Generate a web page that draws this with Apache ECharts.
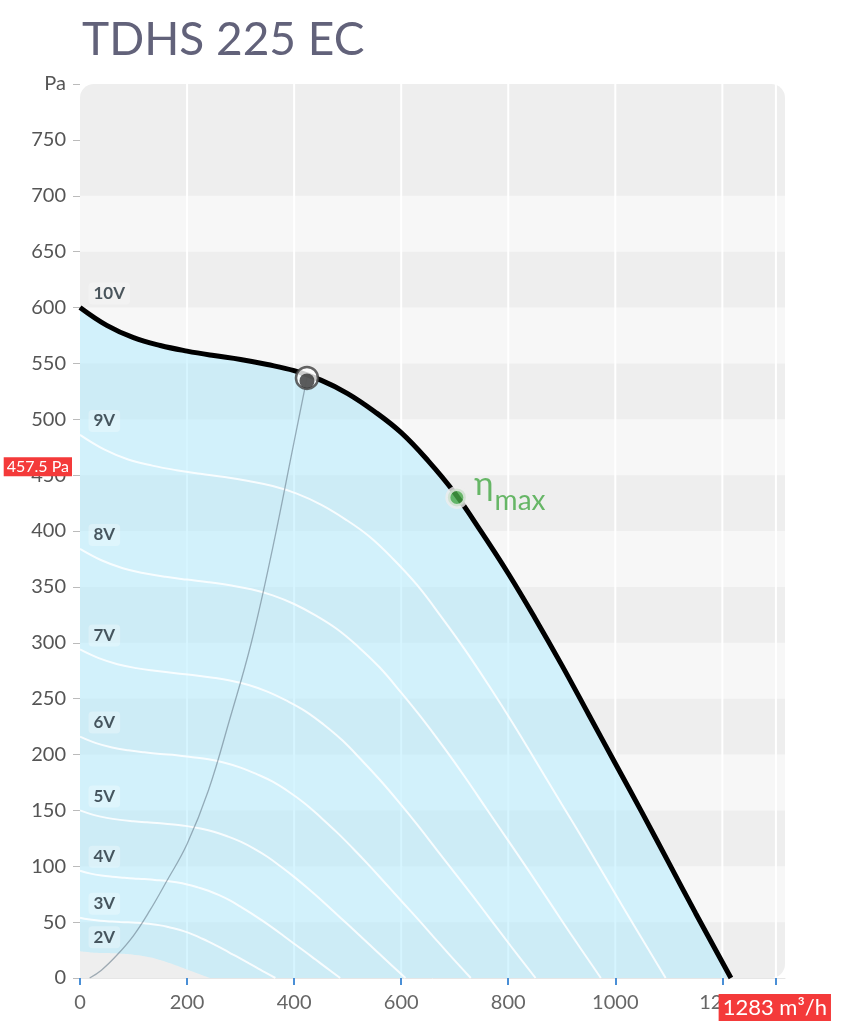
<!DOCTYPE html>
<html><head><meta charset="utf-8">
<script src="https://cdn.jsdelivr.net/npm/echarts@6/dist/echarts.min.js"></script>
<style>html,body{margin:0;padding:0;background:#fff}#c{width:848px;height:1024px}</style>
</head><body><div id="c"></div>
<script>
// ---------- data ----------
const chartTitle = 'TDHS 225 EC';
const xLabelValues = [0, 200, 400, 600, 800, 1000, 1200];
const xTickValues = [0, 200, 400, 600, 800, 1000, 1200, 1300];
const gridLineValues = [200, 400, 600, 800, 1000, 1200, 1300];
const lightBands = [[50,100],[150,200],[250,300],[350,400],[450,500],[550,600],[650,700]];
const xMax = 1317;
const yMax = 800;

const curve10V = [[0,600],[50,584],[100,573],[150,566],[200,561],[250,557],[300,553.5],[350,549],[400,543.5],[450,535],[500,523],[550,507],[600,488],[650,463],[700,434],[750,399],[800,362],[850,322],[900,280],[950,236],[1000,192],[1050,148],[1100,103],[1150,58],[1216,0]];
const curve9V = [[0,486],[45,473],[90,464],[135,458.5],[180,454.4],[225,451.2],[270,448.3],[315,444.7],[360,440.2],[405,433.4],[450,423.6],[495,410.7],[540,395.3],[585,375],[630,351.5],[675,323.2],[720,293.2],[765,260.8],[810,226.8],[855,191.2],[900,155.5],[945,119.9],[990,83.4],[1035,47],[1094,0]];
const curve8V = [[0,384],[40,373.8],[80,366.7],[120,362.2],[160,359],[200,356.5],[240,354.2],[280,351.4],[320,347.8],[360,342.4],[400,334.7],[440,324.5],[480,312.3],[520,296.3],[560,277.8],[600,255.4],[640,231.7],[680,206.1],[720,179.2],[760,151],[800,122.9],[840,94.7],[880,65.9],[920,37.1],[973,0]];
const curve7V = [[0,294],[35,286.2],[70,280.8],[105,277.3],[140,274.9],[175,272.9],[210,271.2],[245,269],[280,266.3],[315,262.2],[350,256.3],[385,248.4],[420,239.1],[455,226.9],[490,212.7],[525,195.5],[560,177.4],[595,157.8],[630,137.2],[665,115.6],[700,94.1],[735,72.5],[770,50.5],[805,28.4],[851,0]];
const curve6V = [[0,216],[30,210.2],[60,206.3],[90,203.8],[120,202],[150,200.5],[180,199.3],[210,197.6],[240,195.7],[270,192.6],[300,188.3],[330,182.5],[360,175.7],[390,166.7],[420,156.2],[450,143.6],[480,130.3],[510,115.9],[540,100.8],[570,85],[600,69.1],[630,53.3],[660,37.1],[690,20.9],[730,0]];
const curve5V = [[0,150],[25,146],[50,143.3],[75,141.5],[100,140.3],[125,139.3],[150,138.4],[175,137.3],[200,135.9],[225,133.8],[250,130.8],[275,126.8],[300,122],[325,115.8],[350,108.5],[375,99.8],[400,90.5],[425,80.5],[450,70],[475,59],[500,48],[525,37],[550,25.8],[575,14.5],[608,0]];
const curve4V = [[0,96],[20,93.4],[40,91.7],[60,90.6],[80,89.8],[100,89.1],[120,88.6],[140,87.8],[160,87],[180,85.6],[200,83.7],[220,81.1],[240,78.1],[260,74.1],[280,69.4],[300,63.8],[320,57.9],[340,51.5],[360,44.8],[380,37.8],[400,30.7],[420,23.7],[440,16.5],[460,9.3],[486,0]];
const curve3V = [[0,54],[15,52.6],[30,51.6],[45,50.9],[60,50.5],[75,50.1],[90,49.8],[105,49.4],[120,48.9],[135,48.2],[150,47.1],[165,45.6],[180,43.9],[195,41.7],[210,39.1],[225,35.9],[240,32.6],[255,29],[270,25.2],[285,21.2],[300,17.3],[315,13.3],[330,9.3],[345,5.2],[365,0]];
const curve2V = [[0,24],[10,23.4],[20,22.9],[30,22.6],[40,22.4],[50,22.3],[60,22.1],[70,22],[80,21.7],[90,21.4],[100,20.9],[110,20.3],[120,19.5],[130,18.5],[140,17.4],[150,16],[160,14.5],[170,12.9],[180,11.2],[190,9.4],[200,7.7],[210,5.9],[220,4.1],[230,2.3],[243,0]];
const voltageLabels = ['10V','9V','8V','7V','6V','5V','4V','3V','2V'];
const systemCurve = [[18,0],[40,7],[70,21],[100,38],[130,60],[160,85],[200,120],[240,168],[280,232],[320,300],[360,385],[400,480],[424,537]];
const operatingPoint = [424, 537];
const etaMaxPoint = [704, 430];
const markedPressure = 457.5;
const markedFlow = 1283;

// ---------- chart ----------
const FONT = 'Lato, "Noto Sans", sans-serif';
const allCurves = [curve10V, curve9V, curve8V, curve7V, curve6V, curve5V, curve4V, curve3V, curve2V];
const whiteCurves = [curve9V, curve8V, curve7V, curve6V, curve5V, curve4V, curve3V];
const SMOOTH = 0.4;

const chart = echarts.init(document.getElementById('c'), null, {renderer: 'canvas'});

const series = [];
series.push({
  type: 'custom', z: 1, silent: true, data: lightBands,
  renderItem: (params, api) => {
    const a = api.coord([0, api.value(1)]);
    const b = api.coord([xMax, api.value(0)]);
    return {type: 'rect', shape: {x: a[0], y: a[1], width: b[0] - a[0], height: b[1] - a[1]}, style: {fill: '#f7f7f7'}};
  }
});
series.push({
  type: 'custom', z: 1, silent: true, data: gridLineValues.map(v => [v, 0]),
  renderItem: (params, api) => {
    const a = api.coord([api.value(0), 0]);
    const b = api.coord([api.value(0), yMax]);
    return {type: 'line', shape: {x1: a[0], y1: a[1], x2: b[0], y2: b[1]}, style: {stroke: '#ffffff', lineWidth: 2}};
  }
});
series.push({
  type: 'line', z: 2, data: curve10V, smooth: SMOOTH, symbol: 'none', silent: true,
  lineStyle: {color: '#000', width: 5},
  areaStyle: {color: 'rgba(165,232,255,0.45)', opacity: 1}
});
series.push({
  type: 'line', z: 3, data: curve2V, smooth: SMOOTH, symbol: 'none', silent: true,
  lineStyle: {width: 0},
  areaStyle: {color: '#eeeeee', opacity: 1}
});
whiteCurves.forEach(c => series.push({
  type: 'line', z: 4, data: c, smooth: SMOOTH, symbol: 'none', silent: true,
  lineStyle: {color: 'rgba(255,255,255,0.85)', width: 2}
}));
series.push({
  type: 'line', z: 4, data: systemCurve, smooth: SMOOTH, symbol: 'none', silent: true,
  lineStyle: {color: 'rgba(105,125,140,0.6)', width: 1.3}
});
series.push({
  type: 'scatter', z: 9, silent: true,
  data: voltageLabels.map((t, i) => [allCurves[i][0][0], allCurves[i][0][1], t]),
  symbolSize: 1, itemStyle: {color: 'transparent'},
  label: {
    show: true, formatter: p => p.value[2], position: 'right', distance: 8, offset: [0, -14],
    color: '#1f2d36', fontWeight: 'bold', fontSize: 17, fontFamily: FONT,
    backgroundColor: 'rgba(255,255,255,0.35)', borderRadius: 4, padding: [3, 5, 2, 5]
  }
});
series.push({
  type: 'scatter', z: 7, silent: true, data: [operatingPoint], symbolSize: 22,
  itemStyle: {color: '#ffffff', borderColor: '#3d3d3d', borderWidth: 2.5}
});
series.push({
  type: 'scatter', z: 8, silent: true, data: [operatingPoint], symbolSize: 15, symbolOffset: [0, 3],
  itemStyle: {color: '#333333'}
});
series.push({
  type: 'scatter', z: 8, silent: true, data: [etaMaxPoint], symbolSize: 18,
  itemStyle: {color: '#46a846', borderColor: '#eeeeee', borderWidth: 5},
  label: {
    show: true, position: 'right', distance: 6, offset: [0, -6],
    formatter: '{e|η}{m|max}',
    rich: {
      e: {fontSize: 33, color: '#43a743', fontFamily: FONT, padding: [0, 1, 14, 0], verticalAlign: 'bottom'},
      m: {fontSize: 28, color: '#43a743', fontFamily: FONT, verticalAlign: 'bottom'}
    }
  }
});

chart.setOption({
  animation: false,
  title: {text: chartTitle, left: 77, top: 12, textStyle: {fontFamily: FONT, fontSize: 46, fontWeight: 'normal', color: '#62627a'}},
  grid: {left: 80, right: 63, top: 84, bottom: 46},
  xAxis: {
    type: 'value', min: 0, max: xMax, interval: 200, offset: 5,
    axisLine: {show: true, lineStyle: {color: '#e6e6e6', width: 1}},
    axisTick: {show: true, length: 7, customValues: xTickValues, lineStyle: {color: '#4a8fd6', width: 2}},
    axisLabel: {customValues: xLabelValues, color: '#666', fontSize: 20, fontFamily: FONT, margin: 10, formatter: v => String(v)},
    splitLine: {show: false}
  },
  yAxis: {
    type: 'value', min: 0, max: yMax, interval: 50, offset: 5,
    axisLine: {show: false},
    axisTick: {show: true, length: 7, lineStyle: {color: '#bbb', width: 1}},
    axisLabel: {color: '#555', fontSize: 20, fontFamily: FONT, margin: 9, formatter: v => v === yMax ? 'Pa' : String(v)},
    splitLine: {show: false}
  },
  series: series
});

const tl = chart.convertToPixel({gridIndex: 0}, [0, yMax]);
const br = chart.convertToPixel({gridIndex: 0}, [xMax, 0]);
const pY = chart.convertToPixel({gridIndex: 0}, [0, markedPressure]);
const pX = chart.convertToPixel({gridIndex: 0}, [markedFlow, 0]);
chart.setOption({
  graphic: [
    {type: 'rect', z: 0, silent: true, shape: {x: tl[0], y: tl[1], width: br[0] - tl[0], height: br[1] - tl[1], r: 14}, style: {fill: '#eeeeee'}},
    {type: 'text', z: 100, silent: true, style: {
      text: markedPressure + ' Pa', x: pY[0] - 8, y: pY[1], align: 'right', textAlign: 'right', verticalAlign: 'middle', textVerticalAlign: 'middle',
      fill: '#ffffff', backgroundColor: '#f43a3a', padding: [2, 3, 1, 3], font: '16px Lato, "Noto Sans", sans-serif'}},
    {type: 'text', z: 100, silent: true, style: {
      text: markedFlow + ' m³/h', x: pX[0] + 8, y: pX[1] + 16, align: 'center', textAlign: 'center', verticalAlign: 'top', textVerticalAlign: 'top',
      fill: '#ffffff', backgroundColor: '#f43a3a', padding: [3, 4, 2, 4], font: '22px Lato, "Noto Sans", sans-serif'}}
  ]
});
</script>
</body></html>
